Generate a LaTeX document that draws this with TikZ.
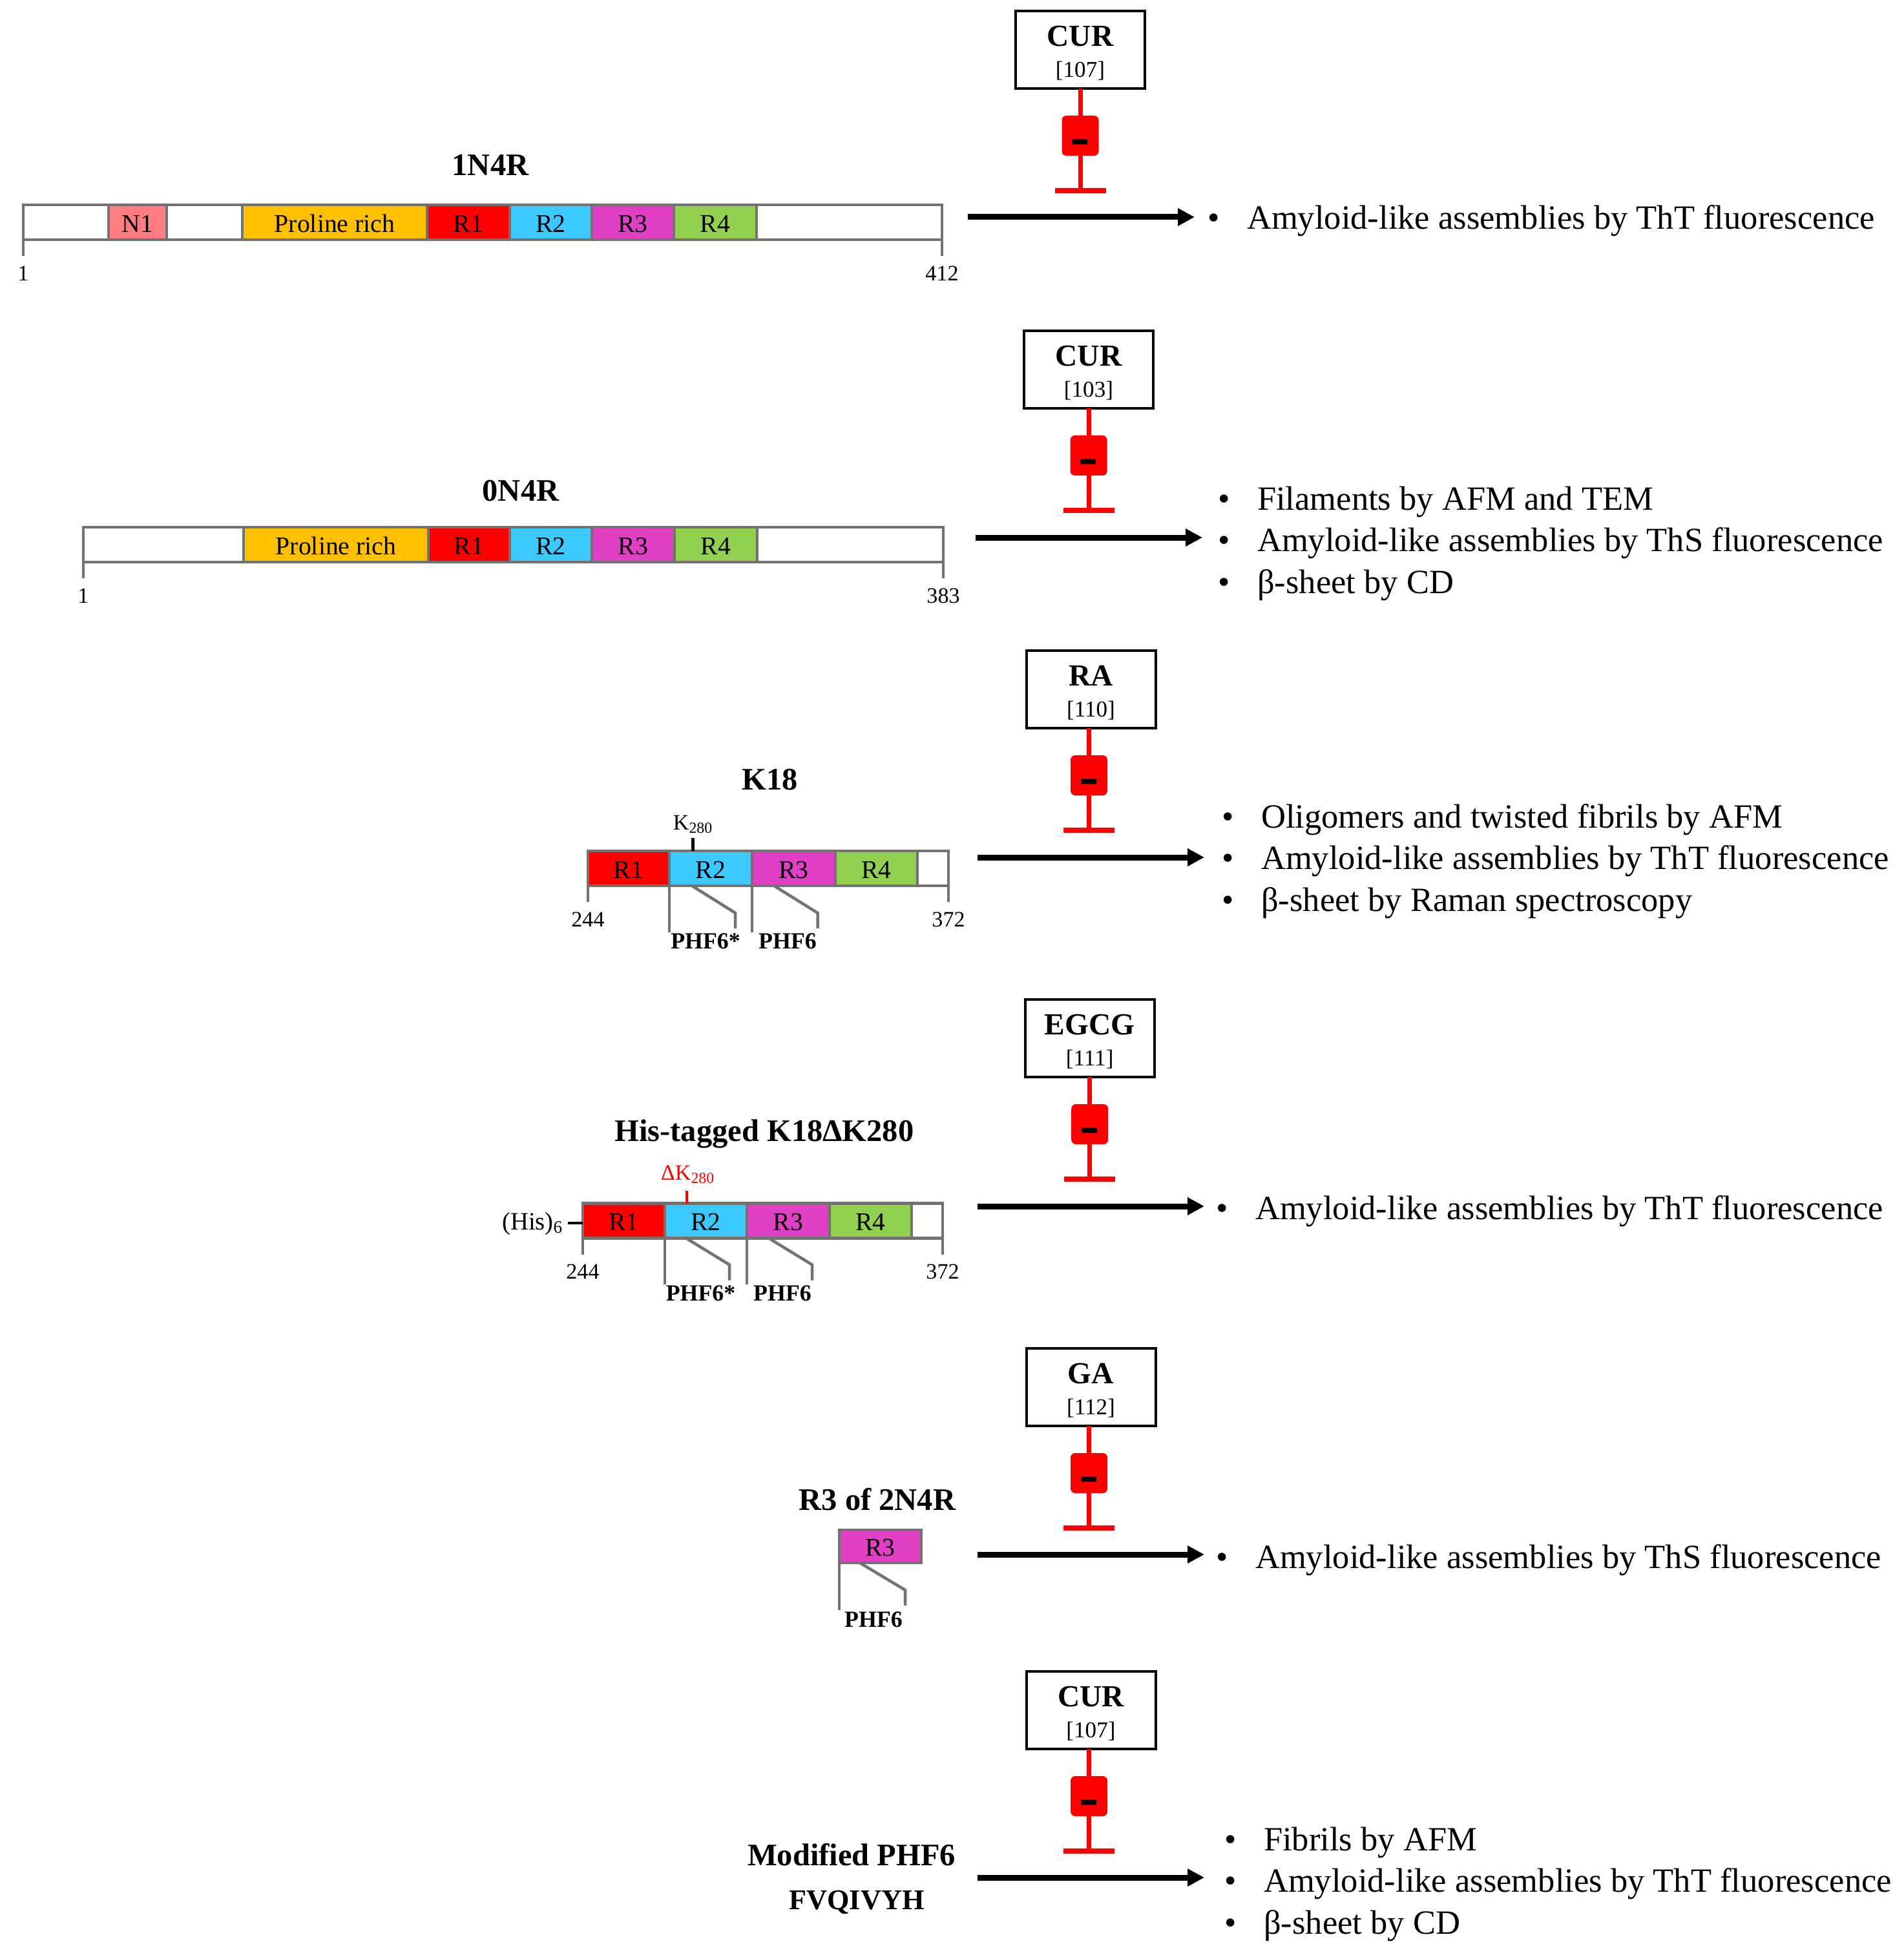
\documentclass[tikz,border=0pt]{standalone}
\usepackage{fontspec}
\setmainfont{Liberation Serif}
\usepackage{xcolor}
\usetikzlibrary{arrows.meta, positioning}
\definecolor{barline}{HTML}{767171}
\definecolor{nterm}  {HTML}{FF7C80}
\definecolor{proline}{HTML}{FFC000}
\definecolor{rone}   {HTML}{FF0000}
\definecolor{rtwo}   {HTML}{3BC9FF}
\definecolor{rthree} {HTML}{E03FC6}
\definecolor{rfour}  {HTML}{92D050}
\newcommand{\drugtext}[2]{\rule{0pt}{11.7pt}{\fontsize{13.5}{15}\selectfont\bfseries #1}\\[1.6pt]{\fontsize{10}{12}\selectfont [#2]}}
\newcommand{\minustext}{\smash{\raisebox{-9pt}{-}}}

\begin{document}
\begin{tikzpicture}[
    seg/.style={draw=barline, line width=0.047cm, minimum height=0.54cm,
                inner sep=0pt, outer sep=0pt, text height=8.7pt, text depth=0pt,
                font=\fontsize{11.3}{13}\selectfont},
    tick/.style={draw=barline, line width=0.045cm},
    title/.style={anchor=base, inner sep=0pt, font=\fontsize{13.8}{15}\selectfont\bfseries},
    num/.style={inner sep=0pt, font=\fontsize{9.7}{11}\selectfont},
    phf/.style={anchor=base, inner sep=0pt, font=\fontsize{10.2}{11}\selectfont\bfseries},
    drug/.style={draw, line width=0.04cm, minimum width=2cm, minimum height=1.2cm,
                 inner sep=0pt, outer sep=0pt, align=center},
    pill/.style={fill=red, rounded corners=0.07cm, minimum width=0.57cm,
                 minimum height=0.62cm, inner sep=0pt, outer sep=0pt,
                 font=\fontsize{26}{26}\selectfont\bfseries},
    tbar/.style={fill=red, minimum width=0.79cm, minimum height=0.08cm,
                 inner sep=0pt, outer sep=0pt},
    inh/.style={draw=red, line width=0.07cm},
    arr/.style={-{Triangle[length=0.26cm, width=0.26cm]}, line width=0.09cm},
    effect/.style={anchor=base west, inner sep=0pt, align=left,
                   font=\fontsize{14.95}{18.35}\selectfont},
  ]
    \useasboundingbox (0,0) rectangle (29.46,-30.29);

    % 1N4R
    \node[title] (atitle) at (7.59,-2.72) {1N4R};
    \node[seg, minimum width=1.32cm, anchor=west] (aleft) at (0.36,-3.44) {};
    \node[seg, fill=nterm, minimum width=0.90cm, right=0pt of aleft] (an) {N1};
    \node[seg, minimum width=1.17cm, right=0pt of an] (agap) {};
    \node[seg, fill=proline, minimum width=2.86cm, right=0pt of agap] (apro) {Proline rich};
    \node[seg, fill=rone, minimum width=1.28cm, right=0pt of apro] (aro) {R1};
    \node[seg, fill=rtwo, minimum width=1.27cm, right=0pt of aro] (art) {R2};
    \node[seg, fill=rthree, minimum width=1.27cm, right=0pt of art] (arh) {R3};
    \node[seg, fill=rfour, minimum width=1.28cm, right=0pt of arh] (arf) {R4};
    \node[seg, minimum width=2.87cm, right=0pt of arf] (aend) {};
    \coordinate[below=0.25cm of aleft.south west] (atl);
    \coordinate[below=0.25cm of aend.south east] (atr);
    \draw[tick] (aleft.south west) -- (atl);
    \draw[tick] (aend.south east) -- (atr);
    \node[num, below=0.15cm of atl] (anl) {1};
    \node[num, below=0.15cm of atr] (anr) {412};

    \node[drug] (cura) at (16.72,-0.77) {\drugtext{CUR}{107}};
    \node[pill, below=0.42cm of cura] (pa) {\minustext};
    \node[tbar, below=0.5cm of pa] (ta) {};
    \draw[inh] (cura.south -| pa) -- (pa.north);
    \draw[inh] (pa.south) -- (pa |- ta);
    \coordinate (asta) at (14.98,-3.36);
    \coordinate (aenda) at (18.49,-3.36);
    \draw[arr] (asta) -- (aenda);
    \node[effect] (ea) at (18.69,-3.55) {\textbullet\hspace{0.42cm}Amyloid-like assemblies by ThT fluorescence};

    % 0N4R
    \node[title] (btitle) at (8.06,-7.75) {0N4R};
    \node[seg, minimum width=2.48cm, anchor=west] (bleft) at (1.29,-8.43) {};
    \node[seg, fill=proline, minimum width=2.86cm, right=0pt of bleft] (bpro) {Proline rich};
    \node[seg, fill=rone, minimum width=1.26cm, right=0pt of bpro] (bro) {R1};
    \node[seg, fill=rtwo, minimum width=1.27cm, right=0pt of bro] (brt) {R2};
    \node[seg, fill=rthree, minimum width=1.28cm, right=0pt of brt] (brh) {R3};
    \node[seg, fill=rfour, minimum width=1.28cm, right=0pt of brh] (brf) {R4};
    \node[seg, minimum width=2.88cm, right=0pt of brf] (bend) {};
    \coordinate[below=0.25cm of bleft.south west] (btl);
    \coordinate[below=0.25cm of bend.south east] (btr);
    \draw[tick] (bleft.south west) -- (btl);
    \draw[tick] (bend.south east) -- (btr);
    \node[num, below=0.15cm of btl] (bnl) {1};
    \node[num, below=0.15cm of btr] (bnr) {383};

    \node[drug] (curb) at (16.85,-5.72) {\drugtext{CUR}{103}};
    \node[pill, below=0.42cm of curb] (pb) {\minustext};
    \node[tbar, below=0.5cm of pb] (tb) {};
    \draw[inh] (curb.south -| pb) -- (pb.north);
    \draw[inh] (pb.south) -- (pb |- tb);
    \coordinate (astb) at (15.10,-8.32);
    \coordinate (aendb) at (18.61,-8.32);
    \draw[arr] (astb) -- (aendb);
    \node[effect] (eb) at (18.85,-9.18) {\textbullet\hspace{0.42cm}Filaments by AFM and TEM\\
      \textbullet\hspace{0.42cm}Amyloid-like assemblies by ThS fluorescence\\
      \textbullet\hspace{0.42cm}β-sheet by CD};

    % K18
    \node[title] (ctitle) at (11.92,-12.22) {K18};
    \node[seg, fill=rone, minimum width=1.26cm, anchor=west] (cro) at (9.10,-13.44) {R1};
    \node[seg, fill=rtwo, minimum width=1.28cm, right=0pt of cro] (crt) {R2};
    \node[seg, fill=rthree, minimum width=1.29cm, right=0pt of crt] (crh) {R3};
    \node[seg, fill=rfour, minimum width=1.27cm, right=0pt of crh] (crf) {R4};
    \node[seg, minimum width=0.48cm, right=0pt of crf] (cend) {};
    \coordinate[below=0.25cm of cro.south west] (ctl);
    \coordinate[below=0.25cm of cend.south east] (ctr);
    \draw[tick] (cro.south west) -- (ctl);
    \draw[tick] (cend.south east) -- (ctr);
    \node[num, below=0.15cm of ctl] (cnl) {244};
    \node[num, below=0.15cm of ctr] (cnr) {372};
    \coordinate[below=0.72cm of crt.south west] (cpa);
    \coordinate[below=0.72cm of crh.south west] (cpb);
    \draw[tick] (crt.south west) -- (cpa);
    \draw[tick] (crh.south west) -- (cpb);
    \coordinate (cda) at ([xshift=0.35cm]crt.south west);
    \coordinate (cdb) at ([xshift=1.02cm, yshift=-0.42cm]crt.south west);
    \coordinate (cdc) at ([yshift=-0.24cm]cdb);
    \draw[tick] (cda) -- (cdb) -- (cdc);
    \coordinate (cea) at ([xshift=0.34cm]crh.south west);
    \coordinate (ceb) at ([xshift=1.015cm, yshift=-0.42cm]crh.south west);
    \coordinate (cec) at ([yshift=-0.24cm]ceb);
    \draw[tick] (cea) -- (ceb) -- (cec);
    \node[phf] (cphs) at (10.92,-14.68) {PHF6*};
    \node[phf] (cph) at (12.19,-14.68) {PHF6};
    \coordinate (cka) at ([xshift=0.36cm]crt.north west);
    \coordinate[above=0.2cm of cka] (ckb);
    \draw[line width=0.05cm] (cka) -- (ckb);
    \node[anchor=base, inner sep=0pt, font=\fontsize{9.7}{12}\selectfont] (ckl) at (10.73,-12.84) {K\textsubscript{280}};

    \node[drug] (ra) at (16.885,-10.67) {\drugtext{RA}{110}};
    \node[pill, below=0.42cm of ra, xshift=-0.03cm] (pc) {\minustext};
    \node[tbar, below=0.5cm of pc] (tc) {};
    \draw[inh] (ra.south -| pc) -- (pc.north);
    \draw[inh] (pc.south) -- (pc |- tc);
    \coordinate (astc) at (15.13,-13.27);
    \coordinate (aendc) at (18.64,-13.27);
    \draw[arr] (astc) -- (aendc);
    \node[effect] (ec) at (18.91,-14.10) {\textbullet\hspace{0.42cm}Oligomers and twisted fibrils by AFM\\
      \textbullet\hspace{0.42cm}Amyloid-like assemblies by ThT fluorescence\\
      \textbullet\hspace{0.42cm}β-sheet by Raman spectroscopy};

    % His-tagged K18 without K280
    \node[title] (dtitle) at (11.83,-17.66) {His-tagged K18ΔK280};
    \node[seg, fill=rone, minimum width=1.27cm, anchor=west] (dro) at (9.02,-18.895) {R1};
    \node[seg, fill=rtwo, minimum width=1.27cm, right=0pt of dro] (drt) {R2};
    \node[seg, fill=rthree, minimum width=1.28cm, right=0pt of drt] (drh) {R3};
    \node[seg, fill=rfour, minimum width=1.27cm, right=0pt of drh] (drf) {R4};
    \node[seg, minimum width=0.48cm, right=0pt of drf] (dend) {};
    \coordinate[below=0.25cm of dro.south west] (dtl);
    \coordinate[below=0.25cm of dend.south east] (dtr);
    \draw[tick] (dro.south west) -- (dtl);
    \draw[tick] (dend.south east) -- (dtr);
    \node[num, below=0.15cm of dtl] (dnl) {244};
    \node[num, below=0.15cm of dtr] (dnr) {372};
    \coordinate[below=0.71cm of drt.south west] (dpa);
    \coordinate[below=0.71cm of drh.south west] (dpb);
    \draw[tick] (drt.south west) -- (dpa);
    \draw[tick] (drh.south west) -- (dpb);
    \coordinate (dda) at ([xshift=0.33cm]drt.south west);
    \coordinate (ddb) at ([xshift=1.00cm, yshift=-0.41cm]drt.south west);
    \coordinate (ddc) at ([yshift=-0.24cm]ddb);
    \draw[tick] (dda) -- (ddb) -- (ddc);
    \coordinate (dea) at ([xshift=0.34cm]drh.south west);
    \coordinate (deb) at ([xshift=1.01cm, yshift=-0.41cm]drh.south west);
    \coordinate (dec) at ([yshift=-0.24cm]deb);
    \draw[tick] (dea) -- (deb) -- (dec);
    \node[phf] (dphs) at (10.845,-20.13) {PHF6*};
    \node[phf] (dph) at (12.11,-20.13) {PHF6};
    \coordinate (dka) at ([xshift=0.34cm]drt.north west);
    \coordinate[above=0.2cm of dka] (dkb);
    \draw[red, line width=0.04cm] (dka) -- (dkb);
    \node[anchor=base, inner sep=0pt, text=red, font=\fontsize{9.7}{12}\selectfont] (dkl) at (10.65,-18.26) {ΔK\textsubscript{280}};
    \node[anchor=base east, inner sep=0pt, outer sep=0.07cm, font=\fontsize{11}{13}\selectfont] (his) at (8.79,-19.03) {(His)\textsubscript{6}};
    \coordinate (hise) at ([yshift=-0.035cm]dro.west);
    \draw[line width=0.04cm] (his.east |- hise) -- (hise);

    \node[drug] (egcg) at (16.867,-16.07) {\drugtext{EGCG}{111}};
    \node[pill, below=0.42cm of egcg] (pd) {\minustext};
    \node[tbar, below=0.5cm of pd] (td) {};
    \draw[inh] (egcg.south -| pd) -- (pd.north);
    \draw[inh] (pd.south) -- (pd |- td);
    \coordinate (astd) at (15.13,-18.67);
    \coordinate (aendd) at (18.64,-18.67);
    \draw[arr] (astd) -- (aendd);
    \node[effect] (ed) at (18.82,-18.87) {\textbullet\hspace{0.42cm}Amyloid-like assemblies by ThT fluorescence};

    % R3 of 2N4R
    \node[title] (etitle) at (13.58,-23.37) {R3 of 2N4R};
    \node[seg, fill=rthree, minimum width=1.27cm, minimum height=0.51cm, anchor=west] (ero) at (12.99,-23.935) {R3};
    \coordinate[below=0.73cm of ero.south west] (epa);
    \draw[tick] (ero.south west) -- (epa);
    \coordinate (eda) at ([xshift=0.32cm]ero.south west);
    \coordinate (edb) at ([xshift=1.02cm, yshift=-0.42cm]ero.south west);
    \coordinate (edc) at ([yshift=-0.24cm]edb);
    \draw[tick] (eda) -- (edb) -- (edc);
    \node[phf] (eph) at (13.52,-25.18) {PHF6};

    \node[drug] (ga) at (16.885,-21.47) {\drugtext{GA}{112}};
    \node[pill, below=0.42cm of ga, xshift=-0.03cm] (pe) {\minustext};
    \node[tbar, below=0.5cm of pe] (te) {};
    \draw[inh] (ga.south -| pe) -- (pe.north);
    \draw[inh] (pe.south) -- (pe |- te);
    \coordinate (aste) at (15.13,-24.06);
    \coordinate (aende) at (18.64,-24.06);
    \draw[arr] (aste) -- (aende);
    \node[effect] (ee) at (18.82,-24.27) {\textbullet\hspace{0.42cm}Amyloid-like assemblies by ThS fluorescence};

    % Modified PHF6
    \node[title] (ftitle) at (13.18,-28.87) {Modified PHF6};
    \node[title, font=\fontsize{12.6}{15}\selectfont\bfseries] (fseq) at (13.26,-29.55) {FVQIVYH};

    \node[drug] (curc) at (16.885,-26.47) {\drugtext{CUR}{107}};
    \node[pill, below=0.42cm of curc, xshift=-0.03cm] (pf) {\minustext};
    \node[tbar, below=0.5cm of pf] (tf) {};
    \draw[inh] (curc.south -| pf) -- (pf.north);
    \draw[inh] (pf.south) -- (pf |- tf);
    \coordinate (astf) at (15.13,-29.06);
    \coordinate (aendf) at (18.64,-29.06);
    \draw[arr] (astf) -- (aendf);
    \node[effect] (ef) at (18.95,-29.93) {\textbullet\hspace{0.42cm}Fibrils by AFM\\
      \textbullet\hspace{0.42cm}Amyloid-like assemblies by ThT fluorescence\\
      \textbullet\hspace{0.42cm}β-sheet by CD};
\end{tikzpicture}
\end{document}
